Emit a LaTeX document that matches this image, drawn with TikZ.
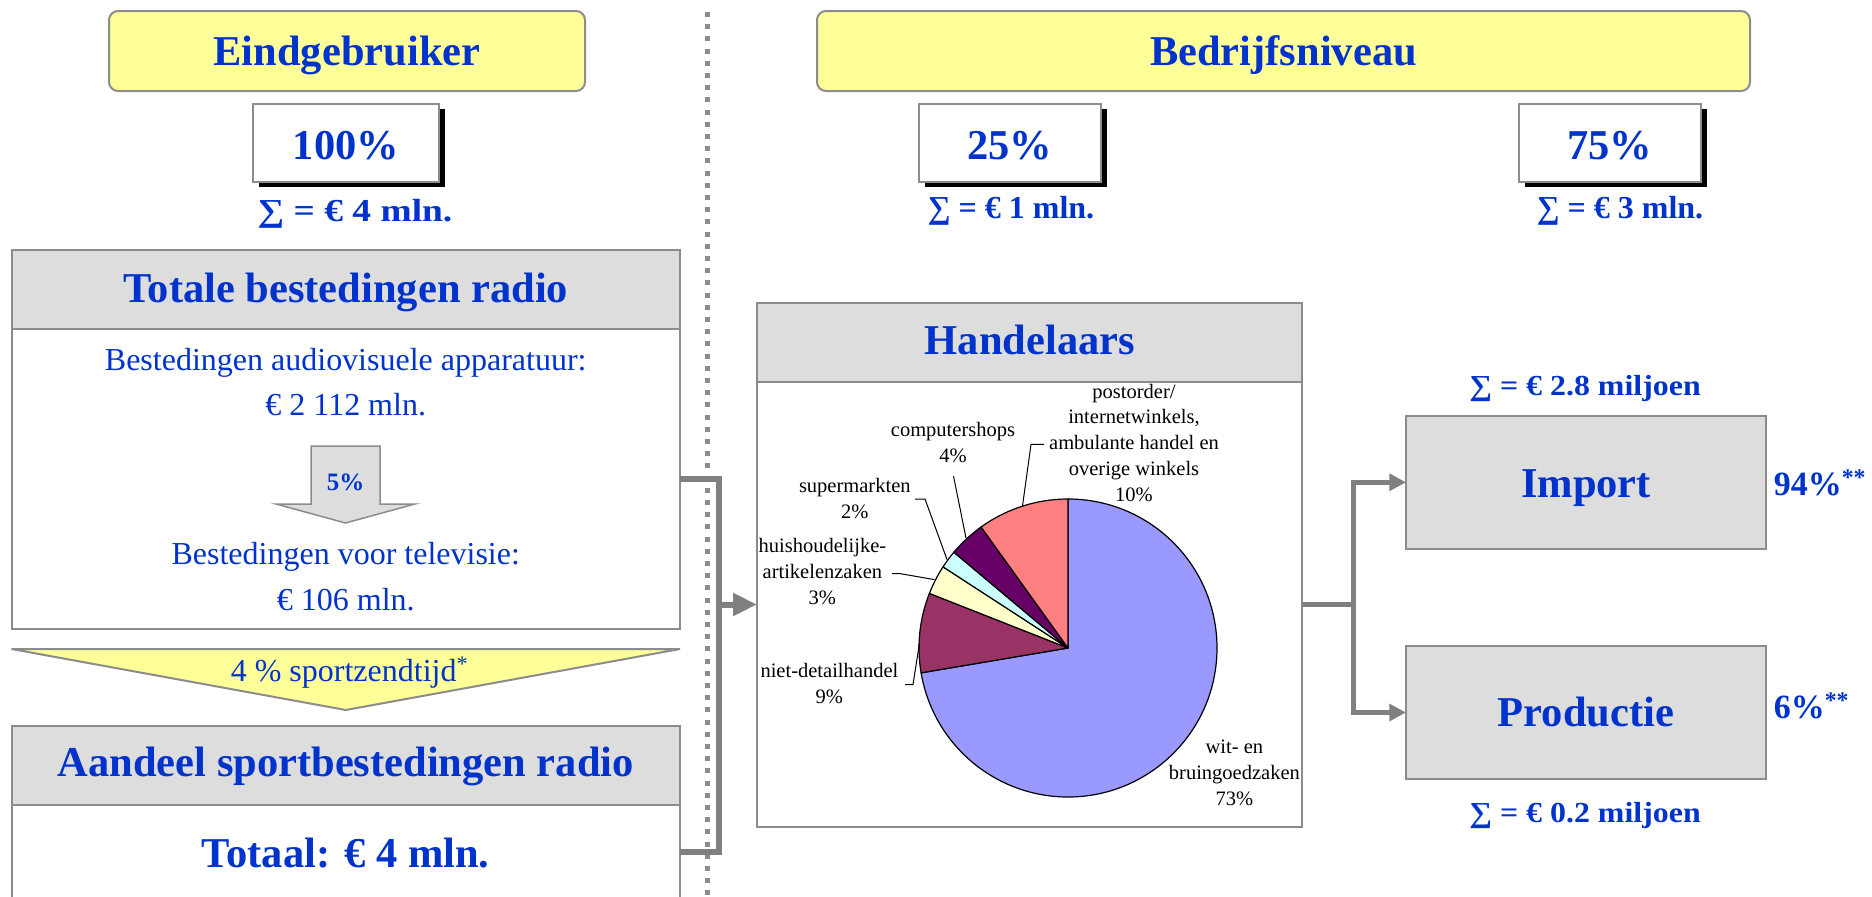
\documentclass[tikz,border=0pt]{standalone}
\usepackage{fontspec}
\usepackage{graphicx}
\setmainfont{Liberation Serif}
\usetikzlibrary{arrows.meta,shadows}
\definecolor{tb}{HTML}{0033CC}
\definecolor{bgray}{HTML}{8C8C8C}
\definecolor{cgray}{HTML}{808080}
\definecolor{hfill}{HTML}{DDDDDD}
\definecolor{yel}{HTML}{FFFF99}
\definecolor{pblue}{HTML}{9999FF}
\definecolor{pplum}{HTML}{993366}
\definecolor{pyel}{HTML}{FFFFCC}
\definecolor{pcyan}{HTML}{CCFFFF}
\definecolor{ppurple}{HTML}{660066}
\definecolor{psalmon}{HTML}{FF8080}
\begin{document}
\begin{tikzpicture}[x=1pt,y=-1pt,
  box/.style={draw=bgray, line width=2pt, inner sep=0pt, outer sep=0pt},
  ybox/.style={box, fill=yel, rounded corners=9pt},
  hbox/.style={box, fill=hfill},
  wbox/.style={box, fill=white},
  pbox/.style={wbox, drop shadow={shadow xshift=6pt, shadow yshift=-5pt, fill=black, opacity=1}},
  ttl/.style={font=\bfseries\fontsize{42.5}{50}\selectfont, text=tb, inner sep=0pt, anchor=base},
  reg/.style={font=\fontsize{32}{38}\selectfont, text=tb, inner sep=0pt, anchor=base},
  sig/.style={font=\bfseries\fontsize{32}{38}\selectfont, text=tb, inner sep=0pt, anchor=base},
  sigs/.style={font=\bfseries\fontsize{29}{34}\selectfont, text=tb, inner sep=0pt, anchor=base},
  lbl/.style={font=\fontsize{20.5}{25.8}\selectfont, align=center, inner sep=0pt, anchor=base},
  conn/.style={draw=cgray, line width=6pt},
  connr/.style={draw=cgray, line width=5.5pt},
  leader/.style={draw=black, line width=1pt},
  slice/.style={draw=black, line width=1.2pt, line join=round},
  dotsep/.style={draw=bgray, line width=5pt, dash pattern=on 5pt off 7.2pt}
]
\useasboundingbox (0,0) rectangle (1872,897);

% separator
\draw[dotsep] (707.5,12) -- (707.5,897);

% ---------- left column ----------
\node[ybox, minimum width=476pt, minimum height=80pt] (eind) at (347,51) {};
\node[ttl] (eindT) at (347,65.7) {Eindgebruiker};

\node[pbox, minimum width=186pt, minimum height=78pt] (p100) at (346,143) {};
\node[ttl] (p100T) at (346,159.3) {100\%};
\node[sig] (sig1) at (355,221.7) {\scalebox{1.17}[1]{∑ = € 4 mln.}};

\node[hbox, minimum width=668.5pt, minimum height=79pt] (totH) at (345.75,289.5) {};
\node[wbox, minimum width=668.5pt, minimum height=300pt] (totB) at (345.75,479) {};
\node[ttl] (totT) at (345.75,302.3) {Totale bestedingen radio};
\node[reg] (t1) at (345.75,370) {Bestedingen audiovisuele apparatuur:};
\node[reg] (t2) at (345.75,415) {€ 2 112 mln.};
\draw[draw=bgray, line width=1.5pt, fill=hfill, line join=miter]
  (311,446) -- (380,446) -- (380,504) -- (415,504) -- (345.5,523) -- (276,504) -- (311,504) -- cycle;
\node[font=\bfseries\fontsize{25}{30}\selectfont, text=tb, inner sep=0pt, anchor=base] (five) at (345.5,490.7) {5\%};
\node[reg] (t3) at (345.75,564) {Bestedingen voor televisie:};
\node[reg] (t4) at (345.75,610) {€ 106 mln.};

\draw[draw=bgray, line width=2pt, fill=yel] (11.5,649) -- (680,649) -- (345.75,710) -- cycle;
\node[reg] (sport) at (349.5,681) {4 \% sportzendtijd\textsuperscript{*}};

\node[hbox, minimum width=668.5pt, minimum height=79pt] (aanH) at (345.75,765.5) {};
\node[wbox, minimum width=668.5pt, minimum height=93pt] (aanB) at (345.75,851.5) {};
\node[ttl] (aanT) at (345.75,776.7) {Aandeel sportbestedingen radio};
\node[ttl] (totaal) at (345.75,867.3) {Totaal: € 4 mln.};

% ---------- right column ----------
\node[ybox, minimum width=933pt, minimum height=80pt] (bed) at (1283.5,51) {};
\node[ttl] (bedT) at (1283.5,65.7) {Bedrijfsniveau};

\node[pbox, minimum width=182pt, minimum height=78pt] (p25) at (1009.5,143) {};
\node[ttl] (p25T) at (1009.5,159.3) {25\%};
\node[sig] (sig2) at (1011,218.3) {∑ = € 1 mln.};

\node[pbox, minimum width=182pt, minimum height=78pt] (p75) at (1609.5,143) {};
\node[ttl] (p75T) at (1609.5,159.3) {75\%};
\node[sig] (sig3) at (1620,218.3) {∑ = € 3 mln.};

\node[hbox, minimum width=545pt, minimum height=79pt] (hanH) at (1029.5,342.5) {};
\node[wbox, minimum width=545pt, minimum height=445pt] (hanB) at (1029.5,604.5) {};
\node[ttl] (hanT) at (1030,354.7) {Handelaars};

% pie chart
\begin{scope}[shift={(1068,648)}, yscale=-1]
  \filldraw[slice, fill=pblue] (0,0) -- (90:149) arc[start angle=90, end angle=-170.4, radius=149] -- cycle;
  \filldraw[slice, fill=pplum] (0,0) -- (189.6:149) arc[start angle=189.6, end angle=158.5, radius=149] -- cycle;
  \filldraw[slice, fill=pyel] (0,0) -- (158.5:149) arc[start angle=158.5, end angle=147, radius=149] -- cycle;
  \filldraw[slice, fill=pcyan] (0,0) -- (147:149) arc[start angle=147, end angle=140, radius=149] -- cycle;
  \filldraw[slice, fill=ppurple] (0,0) -- (140:149) arc[start angle=140, end angle=125.7, radius=149] -- cycle;
  \filldraw[slice, fill=psalmon] (0,0) -- (125.7:149) arc[start angle=125.7, end angle=90, radius=149] -- cycle;
\end{scope}
% multi-line labels: base anchor = baseline of last line
\node[lbl] (lpost) at (1134,501.2) {postorder/\\internetwinkels,\\ambulante handel en\\overige winkels\\10\%};
\node[lbl] (lcomp) at (953,462.2) {computershops\\4\%};
\node[lbl] (lsup) at (854.8,518.4) {supermarkten\\2\%};
\node[lbl] (lhuis) at (822.4,604.5) {huishoudelijke-\\artikelenzaken\\3\%};
\node[lbl] (lniet) at (829.4,703.5) {niet-detailhandel\\9\%};
\node[lbl] (lwit) at (1234.4,805) {wit- en\\bruingoedzaken\\73\%};
\draw[leader] (1044,444.4) -- (1031,444.4) -- (1022.5,506);
\draw[leader] (953.5,476) -- (966,538);
\draw[leader] (915,499) -- (925,499) -- (947,559.5);
\draw[leader] (892,573.6) -- (900,573.6) -- (934.5,579.6);
\draw[leader] (905,684.6) -- (913,684.6) -- (919.5,643);

\node[sigs] (sig4) at (1585,395) {\scalebox{1.1}[1]{∑ = € 2.8 miljoen}};
\node[hbox, minimum width=360pt, minimum height=133.5pt] (imp) at (1586,482.3) {};
\node[ttl] (impT) at (1586,497.3) {Import};
\node[hbox, minimum width=360pt, minimum height=133pt] (prod) at (1586,712.5) {};
\node[ttl] (prodT) at (1586,726.7) {Productie};
\node[sigs] (sig5) at (1585,822.7) {\scalebox{1.1}[1]{∑ = € 0.2 miljoen}};
\node[font=\bfseries\fontsize{34}{40}\selectfont, text=tb, inner sep=0pt, anchor=base west] (pct94) at (1773.6,495) {94\%\textsuperscript{**}};
\node[font=\bfseries\fontsize{34}{40}\selectfont, text=tb, inner sep=0pt, anchor=base west] (pct6) at (1773.6,718) {6\%\textsuperscript{**}};

% ---------- connectors ----------
\coordinate (jl) at (719,604.5);
\draw[conn] (totB.east) -| (jl) |- (aanB.east);
\draw[conn, -{Triangle[length=24pt, width=21.7pt]}] (jl) -- (hanB.west);

\coordinate (jr) at (1353.3,604.5);
\draw[connr] (hanB.east) -- (jr);
\draw[connr, -{Triangle[length=16.7pt, width=16.7pt]}] (jr) |- (imp.west);
\draw[connr, -{Triangle[length=16.7pt, width=16.7pt]}] (jr) |- (prod.west);
\end{tikzpicture}
\end{document}
